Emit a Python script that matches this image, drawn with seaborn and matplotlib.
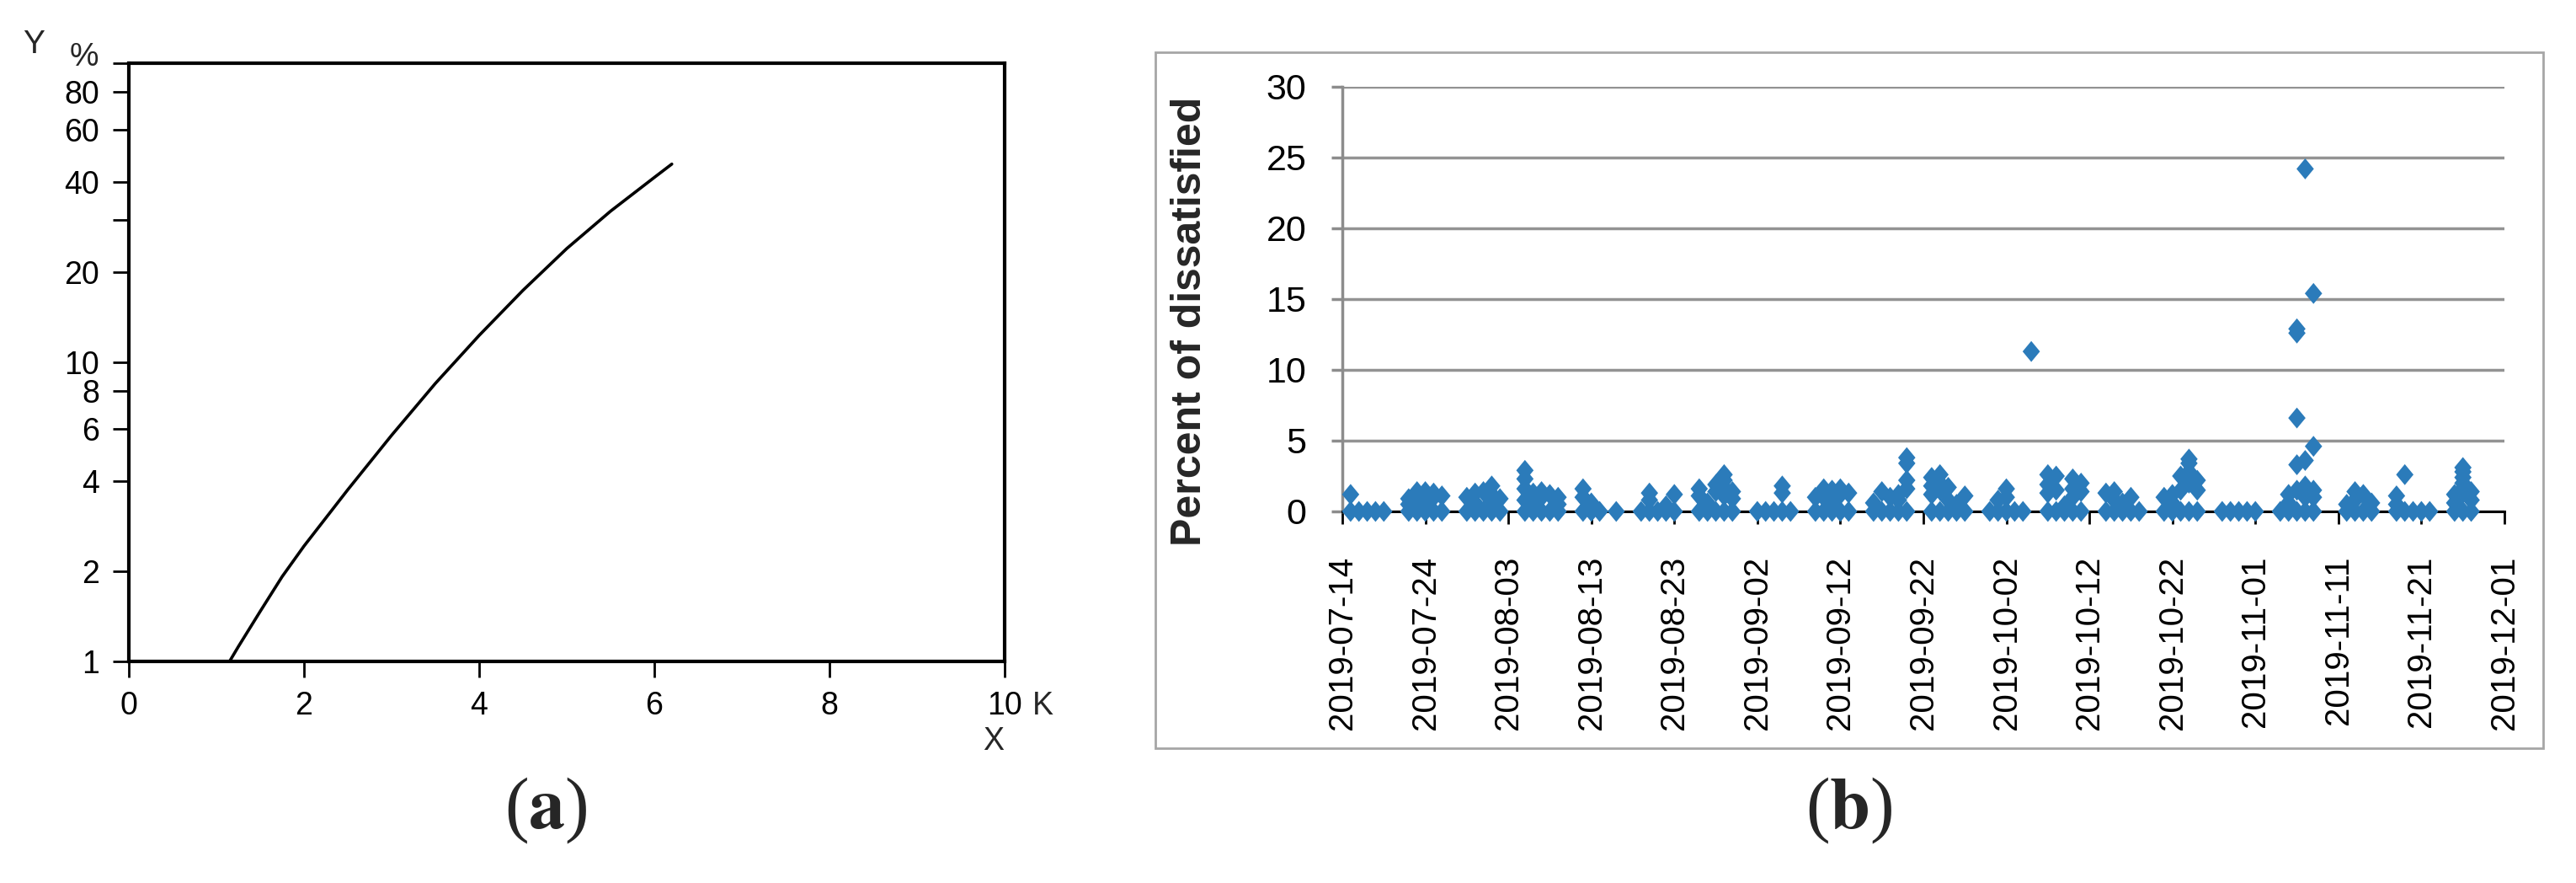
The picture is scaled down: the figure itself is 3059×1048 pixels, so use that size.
import pandas as pd
import matplotlib
matplotlib.use("Agg")
import matplotlib.pyplot as plt
from matplotlib.path import Path
from matplotlib.markers import MarkerStyle
from matplotlib.patches import Rectangle
from matplotlib.ticker import NullLocator
import seaborn as sns


# 1. Data

# (a) Y (%) against X (K), log scale on Y
curve_x = [1.15, 1.25, 1.5, 1.75, 2.0, 2.5, 3.0, 3.5, 4.0, 4.5, 5.0, 5.5, 6.0, 6.2]
curve_y = [1.0, 1.12, 1.47, 1.92, 2.43, 3.75, 5.7, 8.5, 12.3, 17.4, 24.0, 32.0, 41.5, 46.0]
a_xticks = [0, 2, 4, 6, 8, 10]
a_xlabels = ["0", "2", "4", "6", "8", "10"]
a_yticks = [1, 2, 4, 6, 8, 10, 20, 30, 40, 60, 80, 100]
a_ylabels = ["1", "2", "4", "6", "8", "10", "20", "", "40", "60", "80", ""]

# (b) daily percent of dissatisfied (several readings per day)
obs_dates = [
    "2019-07-15", "2019-07-16", "2019-07-17", "2019-07-18", "2019-07-19",
    "2019-07-22", "2019-07-23", "2019-07-24", "2019-07-25", "2019-07-26",
    "2019-07-29", "2019-07-30", "2019-07-31", "2019-08-01", "2019-08-02",
    "2019-08-05", "2019-08-06", "2019-08-07", "2019-08-08", "2019-08-09",
    "2019-08-12", "2019-08-13", "2019-08-14", "2019-08-16",
    "2019-08-19", "2019-08-20", "2019-08-21", "2019-08-22", "2019-08-23",
    "2019-08-26", "2019-08-27", "2019-08-28", "2019-08-29", "2019-08-30",
    "2019-09-02", "2019-09-03", "2019-09-04", "2019-09-05", "2019-09-06",
    "2019-09-09", "2019-09-10", "2019-09-11", "2019-09-12", "2019-09-13",
    "2019-09-16", "2019-09-17", "2019-09-18", "2019-09-19", "2019-09-20",
    "2019-09-23", "2019-09-24", "2019-09-25", "2019-09-26", "2019-09-27",
    "2019-09-30", "2019-10-01", "2019-10-02", "2019-10-03", "2019-10-04", "2019-10-05",
    "2019-10-07", "2019-10-08", "2019-10-09", "2019-10-10", "2019-10-11",
    "2019-10-14", "2019-10-15", "2019-10-16", "2019-10-17", "2019-10-18",
    "2019-10-21", "2019-10-22", "2019-10-23", "2019-10-24", "2019-10-25",
    "2019-10-28", "2019-10-29", "2019-10-30", "2019-10-31", "2019-11-01",
    "2019-11-04", "2019-11-05", "2019-11-06", "2019-11-07", "2019-11-08",
    "2019-11-12", "2019-11-13", "2019-11-14", "2019-11-15",
    "2019-11-18", "2019-11-19", "2019-11-20", "2019-11-21", "2019-11-22",
    "2019-11-25", "2019-11-26", "2019-11-27",
]
obs_values = [
    [0, 1.2], [0], [0], [0], [0],
    [0, 0.5, 0.9], [0, 1.4, 0.8], [0, 1.4, 0.6], [0, 1.0, 1.3], [0, 1.1],
    [0, 1.0], [0, 1.3, 0.6], [0, 1.4], [0, 1.8, 1.2, 0.7], [0, 0.9],
    [0, 2.9, 2.3, 1.6, 0.8], [0, 1.3, 0.7], [0, 1.4, 1.0], [0, 1.2], [0, 1.0, 0.5],
    [0, 1.6, 1.0], [0, 0.6], [0], [0],
    [0], [0, 1.3, 0.8], [0], [0, 0.4], [0, 1.2],
    [0, 1.6, 1.1], [0, 0.6], [0, 1.9, 1.4], [0, 2.6, 2.2, 1.7, 1.1], [0, 1.4, 0.9],
    [0], [0], [0], [0, 1.8, 1.3], [0],
    [0, 1.0], [0, 1.6, 1.0], [0, 1.5, 0.7], [0, 1.6, 1.2], [0, 1.3],
    [0, 0.6], [0, 1.4], [0, 1.0], [0, 1.2, 0.8], [0, 3.8, 3.4, 2.2, 1.6],
    [0, 2.4, 1.8, 1.2], [0, 2.6, 2.0, 1.5], [0, 1.7, 0.8], [0, 0.5], [0, 1.1],
    [0], [0, 0.8], [0, 1.6, 1.0], [0], [0], [11.3],
    [0, 2.6, 1.9, 1.3], [0, 2.5, 1.5], [0, 0.4], [0, 2.3, 1.6, 1.0], [0, 2.0, 1.4],
    [0, 1.3], [0, 1.4, 0.8], [0, 0.6], [0, 1.0], [0],
    [0, 1.0], [0, 1.2, 0.6], [0, 2.5, 1.5], [0, 3.7, 3.4, 2.8, 2.0], [0, 2.2, 1.5],
    [0], [0], [0], [0], [0],
    [0], [0, 1.2, 0.6], [0, 12.9, 12.6, 6.6, 3.3, 1.5], [0, 24.2, 3.6, 1.8, 1.0], [0, 15.4, 4.6, 1.5, 1.0],
    [0, 0.5], [0, 1.4, 0.8], [0, 1.2], [0, 0.6],
    [0, 1.1, 0.5], [0, 2.6], [0], [0], [0],
    [0, 1.2, 0.6], [0, 3.1, 2.8, 2.4, 2.0, 1.6, 1.3], [0, 1.4, 0.8],
]
b_yticks = [0, 5, 10, 15, 20, 25, 30]
b_xticks = pd.date_range("2019-07-14", "2019-12-01", freq="10D")

df_b = pd.DataFrame({"date": pd.to_datetime(obs_dates), "pct": obs_values}).explode("pct")
df_b["pct"] = df_b["pct"].astype(float)


# 2. Figure

sns.set_theme(style="ticks")
plt.rcParams["font.family"] = ["Liberation Sans", "DejaVu Sans"]
plt.rcParams["mathtext.fontset"] = "stix"

W, H = 3059, 1048
fig = plt.figure(figsize=(W / 100, H / 100), dpi=100)


def px_box(left, top, right, bottom):
    return [left / W, 1 - bottom / H, (right - left) / W, (bottom - top) / H]


# Panel (a)
ax_a = fig.add_axes(px_box(153, 75, 1193, 785))
sns.lineplot(x=curve_x, y=curve_y, ax=ax_a, color="black", linewidth=2.6)
ax_a.set_yscale("log")
ax_a.set_xlim(0, 10)
ax_a.set_ylim(1, 100)
ax_a.set_yticks(a_yticks)
ax_a.set_yticklabels(a_ylabels)
ax_a.yaxis.set_minor_locator(NullLocator())
ax_a.set_xticks(a_xticks)
ax_a.set_xticklabels(a_xlabels)
for sp in ax_a.spines.values():
    sp.set_visible(True)
    sp.set_color("black")
    sp.set_linewidth(3)
ax_a.tick_params(length=14, width=2, pad=11, labelsize=27, colors="black", direction="out")
ax_a.set_xlabel("")
ax_a.set_ylabel("")

# "K" sits on the same line as the x tick labels
fig.text(1226 / W, 1 - 820 / H, "K", fontsize=27, ha="left", va="top")
fig.text(1180 / W, 1 - 880 / H, "X", fontsize=27, ha="center", va="center")
fig.text(40 / W, 1 - 53 / H, "Y", fontsize=28, ha="center", va="center")
fig.text(100 / W, 1 - 68 / H, "%", fontsize=28, ha="center", va="center")

# Panel (b)
fig.patches.append(Rectangle((1372 / W, 1 - 888 / H), (3020 - 1372) / W, (888 - 62) / H,
                             transform=fig.transFigure, fill=False,
                             edgecolor="#a6a6a6", linewidth=2))

ax_b = fig.add_axes(px_box(1594, 103, 2974, 607))
diamond = MarkerStyle(Path([(0, 1), (0.83, 0), (0, -1), (-0.83, 0), (0, 1)], closed=True))
sns.scatterplot(data=df_b, x="date", y="pct", ax=ax_b, marker=diamond, s=320,
                color="#2b7bba", edgecolor="none", linewidth=0, zorder=3, clip_on=False)
ax_b.set_xlim(pd.Timestamp("2019-07-14"), pd.Timestamp("2019-12-01"))
ax_b.set_ylim(0, 30)
ax_b.set_yticks(b_yticks)
ax_b.set_yticklabels([str(v) for v in b_yticks], fontsize=31,
                     family=["Liberation Sans Narrow", "Liberation Sans"])
ax_b.set_xticks(b_xticks)
ax_b.set_xticklabels([d.strftime("%Y-%m-%d") for d in b_xticks], rotation=90, fontsize=29)
ax_b.yaxis.grid(True, color="#939393", linewidth=2.5)
ax_b.set_axisbelow(True)
ax_b.spines["top"].set_visible(False)
ax_b.spines["right"].set_visible(False)
ax_b.spines["left"].set_color("#8c8c8c")
ax_b.spines["left"].set_linewidth(2.5)
ax_b.spines["bottom"].set_color("black")
ax_b.spines["bottom"].set_linewidth(2.2)
ax_b.tick_params(axis="y", length=9.5, width=2.5, color="#8c8c8c", pad=21, labelcolor="black")
ax_b.tick_params(axis="x", length=11, width=2, color="black", pad=27, labelcolor="black")
ax_b.set_xlabel("")
ax_b.set_ylabel("")

fig.text(1413 / W, 1 - 381 / H, "Percent of dissatisfied", rotation=90, fontsize=36,
         fontweight="bold", ha="center", va="center")

# Panel labels
fig.text(648 / W, 1 - 962 / H, r"($\mathbf{a}$)", fontsize=62, family="Liberation Serif",
         ha="center", va="center")
fig.text(2196 / W, 1 - 962 / H, r"($\mathbf{b}$)", fontsize=62, family="Liberation Serif",
         ha="center", va="center")

fig.savefig("out.png", dpi=100)
